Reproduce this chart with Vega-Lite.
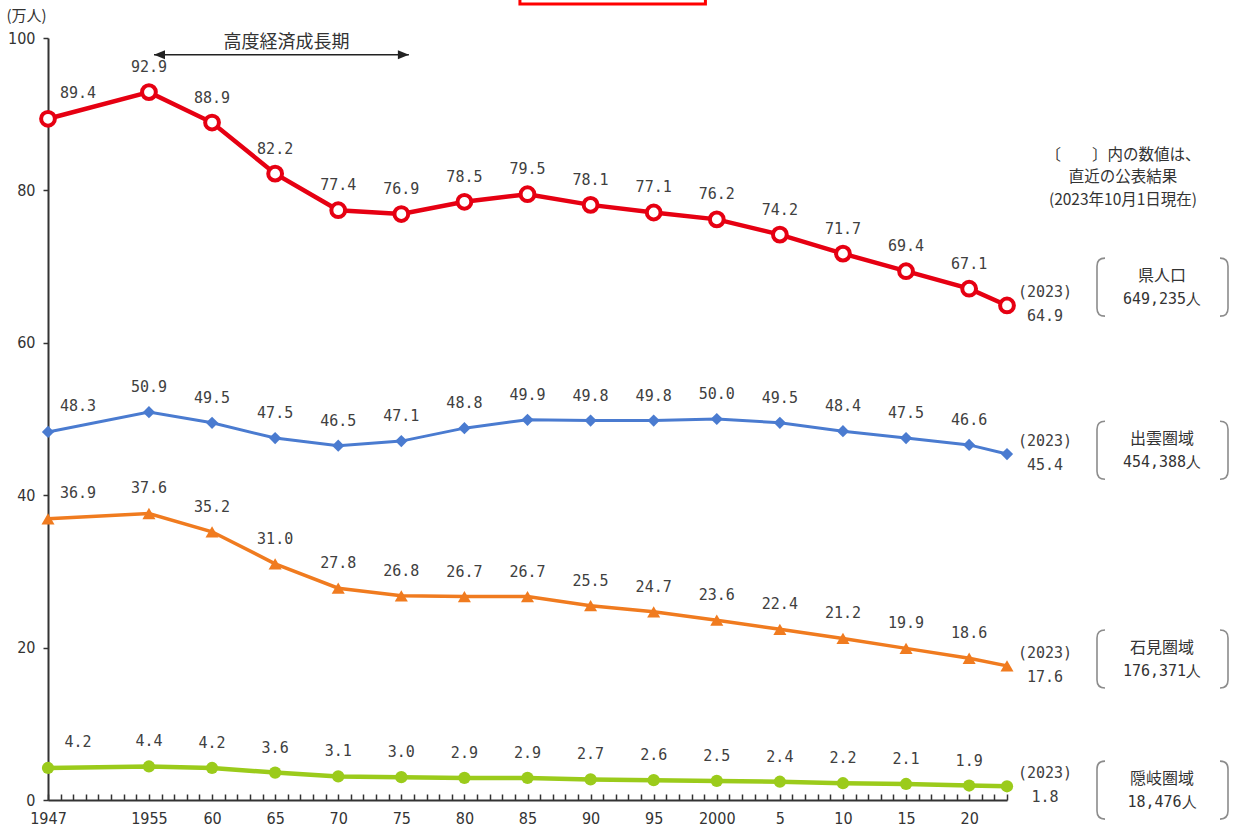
{
  "$schema": "https://vega.github.io/schema/vega-lite/v6.json",
  "width": 959,
  "height": 762,
  "autosize": {"type": "none"},
  "padding": {"left": 48, "top": 38, "right": 230, "bottom": 29},
  "background": "white",
  "config": {"view": {"stroke": null}, "font": "Noto Sans CJK JP"},
  "resolve": {"axis": {"x": "independent", "y": "independent"}},
  "datasets": {
    "pop": [
      {"year": 1947, "series": "県人口", "value": 89.4},
      {"year": 1955, "series": "県人口", "value": 92.9},
      {"year": 1960, "series": "県人口", "value": 88.9},
      {"year": 1965, "series": "県人口", "value": 82.2},
      {"year": 1970, "series": "県人口", "value": 77.4},
      {"year": 1975, "series": "県人口", "value": 76.9},
      {"year": 1980, "series": "県人口", "value": 78.5},
      {"year": 1985, "series": "県人口", "value": 79.5},
      {"year": 1990, "series": "県人口", "value": 78.1},
      {"year": 1995, "series": "県人口", "value": 77.1},
      {"year": 2000, "series": "県人口", "value": 76.2},
      {"year": 2005, "series": "県人口", "value": 74.2},
      {"year": 2010, "series": "県人口", "value": 71.7},
      {"year": 2015, "series": "県人口", "value": 69.4},
      {"year": 2020, "series": "県人口", "value": 67.1},
      {"year": 2023, "series": "県人口", "value": 64.9},
      {"year": 1947, "series": "出雲圏域", "value": 48.3},
      {"year": 1955, "series": "出雲圏域", "value": 50.9},
      {"year": 1960, "series": "出雲圏域", "value": 49.5},
      {"year": 1965, "series": "出雲圏域", "value": 47.5},
      {"year": 1970, "series": "出雲圏域", "value": 46.5},
      {"year": 1975, "series": "出雲圏域", "value": 47.1},
      {"year": 1980, "series": "出雲圏域", "value": 48.8},
      {"year": 1985, "series": "出雲圏域", "value": 49.9},
      {"year": 1990, "series": "出雲圏域", "value": 49.8},
      {"year": 1995, "series": "出雲圏域", "value": 49.8},
      {"year": 2000, "series": "出雲圏域", "value": 50.0},
      {"year": 2005, "series": "出雲圏域", "value": 49.5},
      {"year": 2010, "series": "出雲圏域", "value": 48.4},
      {"year": 2015, "series": "出雲圏域", "value": 47.5},
      {"year": 2020, "series": "出雲圏域", "value": 46.6},
      {"year": 2023, "series": "出雲圏域", "value": 45.4},
      {"year": 1947, "series": "石見圏域", "value": 36.9},
      {"year": 1955, "series": "石見圏域", "value": 37.6},
      {"year": 1960, "series": "石見圏域", "value": 35.2},
      {"year": 1965, "series": "石見圏域", "value": 31.0},
      {"year": 1970, "series": "石見圏域", "value": 27.8},
      {"year": 1975, "series": "石見圏域", "value": 26.8},
      {"year": 1980, "series": "石見圏域", "value": 26.7},
      {"year": 1985, "series": "石見圏域", "value": 26.7},
      {"year": 1990, "series": "石見圏域", "value": 25.5},
      {"year": 1995, "series": "石見圏域", "value": 24.7},
      {"year": 2000, "series": "石見圏域", "value": 23.6},
      {"year": 2005, "series": "石見圏域", "value": 22.4},
      {"year": 2010, "series": "石見圏域", "value": 21.2},
      {"year": 2015, "series": "石見圏域", "value": 19.9},
      {"year": 2020, "series": "石見圏域", "value": 18.6},
      {"year": 2023, "series": "石見圏域", "value": 17.6},
      {"year": 1947, "series": "隠岐圏域", "value": 4.2},
      {"year": 1955, "series": "隠岐圏域", "value": 4.4},
      {"year": 1960, "series": "隠岐圏域", "value": 4.2},
      {"year": 1965, "series": "隠岐圏域", "value": 3.6},
      {"year": 1970, "series": "隠岐圏域", "value": 3.1},
      {"year": 1975, "series": "隠岐圏域", "value": 3.0},
      {"year": 1980, "series": "隠岐圏域", "value": 2.9},
      {"year": 1985, "series": "隠岐圏域", "value": 2.9},
      {"year": 1990, "series": "隠岐圏域", "value": 2.7},
      {"year": 1995, "series": "隠岐圏域", "value": 2.6},
      {"year": 2000, "series": "隠岐圏域", "value": 2.5},
      {"year": 2005, "series": "隠岐圏域", "value": 2.4},
      {"year": 2010, "series": "隠岐圏域", "value": 2.2},
      {"year": 2015, "series": "隠岐圏域", "value": 2.1},
      {"year": 2020, "series": "隠岐圏域", "value": 1.9},
      {"year": 2023, "series": "隠岐圏域", "value": 1.8}
    ],
    "boxes": [
      {"series": "県人口", "line1": "県人口", "line2": "649,235人", "year": 2023, "boxY": 67.3},
      {"series": "出雲圏域", "line1": "出雲圏域", "line2": "454,388人", "year": 2023, "boxY": 45.9},
      {"series": "石見圏域", "line1": "石見圏域", "line2": "176,371人", "year": 2023, "boxY": 18.5},
      {"series": "隠岐圏域", "line1": "隠岐圏域", "line2": "18,476人", "year": 2023, "boxY": 1.3}
    ],
    "note": [
      {"year": 2023, "y": 84.6, "text": "〔　　〕内の数値は、"},
      {"year": 2023, "y": 81.7, "text": "直近の公表結果"},
      {"year": 2023, "y": 78.8, "text": "(2023年10月1日現在)"}
    ],
    "arrow": [
      {"label": "高度経済成長期", "from": 1955.4, "to": 1975.6, "mid": 1965.9, "y": 97.8}
    ],
    "frame": [
      {"x0": 1984.4, "x1": 1999.1, "y0": 104.45, "y1": 112}
    ]
  },
  "layer": [
    {
      "data": {"name": "frame"},
      "mark": {"type": "rect", "fill": null, "stroke": "#ff0000", "strokeWidth": 3, "clip": false},
      "encoding": {
        "x": {"field": "x0", "type": "quantitative", "scale": {"domain": [1947, 2023], "nice": false, "zero": false}, "axis": null},
        "x2": {"field": "x1"},
        "y": {"field": "y0", "type": "quantitative", "scale": {"domain": [0, 100], "nice": false, "zero": true}, "axis": null},
        "y2": {"field": "y1"}
      }
    },
    {
      "data": {"name": "pop"},
      "transform": [{"filter": "datum.series == '県人口'"}],
      "mark": {"type": "line", "color": "#e60012", "strokeWidth": 4.5},
      "encoding": {
        "x": {
          "field": "year", "type": "quantitative",
          "axis": {
            "title": null,
            "values": [1947,1948,1949,1950,1951,1952,1953,1954,1955,1956,1957,1958,1959,1960,1961,1962,1963,1964,1965,1966,1967,1968,1969,1970,1971,1972,1973,1974,1975,1976,1977,1978,1979,1980,1981,1982,1983,1984,1985,1986,1987,1988,1989,1990,1991,1992,1993,1994,1995,1996,1997,1998,1999,2000,2001,2002,2003,2004,2005,2006,2007,2008,2009,2010,2011,2012,2013,2014,2015,2016,2017,2018,2019,2020,2021,2022,2023],
            "labelExpr": "(datum.value == 1947 || (datum.value >= 1955 && datum.value % 5 == 0 && datum.value <= 2020)) ? ((datum.value == 1947 || datum.value == 1955 || datum.value == 2000) ? '' + datum.value : '' + (datum.value % 100)) : ''",
            "labelOverlap": false,
            "labelFlush": false,
            "labelBound": false,
            "labelFont": "Liberation Sans Narrow, DejaVu Sans Condensed, Roboto",
            "labelFontSize": 16,
            "labelColor": "#333333",
            "labelPadding": 16,
            "tickSize": -6,
            "tickWidth": 1.5,
            "tickColor": "#333333",
            "domainColor": "#333333",
            "domainWidth": 2,
            "grid": false
          }
        },
        "y": {
          "field": "value", "type": "quantitative",
          "axis": {
            "title": "(万人)",
            "titleAngle": 0,
            "titleAlign": "left",
            "titleBaseline": "middle",
            "titleX": -42,
            "titleY": -23,
            "titleFont": "Noto Sans CJK JP",
            "titleFontSize": 15,
            "titleFontWeight": "normal",
            "titleColor": "#333333",
            "values": [0, 20, 40, 60, 80, 100],
            "labelFont": "Liberation Sans Narrow, DejaVu Sans Condensed, Roboto",
            "labelFontSize": 16,
            "labelColor": "#333333",
            "labelPadding": 8,
            "tickSize": 5,
            "tickWidth": 1.5,
            "tickColor": "#333333",
            "domainColor": "#333333",
            "domainWidth": 2,
            "grid": false
          }
        }
      }
    },
    {
      "data": {"name": "pop"},
      "transform": [{"filter": "datum.series == '出雲圏域'"}],
      "mark": {"type": "line", "color": "#4a7bd0", "strokeWidth": 3},
      "encoding": {
        "x": {"field": "year", "type": "quantitative", "axis": null},
        "y": {"field": "value", "type": "quantitative", "axis": null}
      }
    },
    {
      "data": {"name": "pop"},
      "transform": [{"filter": "datum.series == '石見圏域'"}],
      "mark": {"type": "line", "color": "#f07b1f", "strokeWidth": 3.5},
      "encoding": {
        "x": {"field": "year", "type": "quantitative", "axis": null},
        "y": {"field": "value", "type": "quantitative", "axis": null}
      }
    },
    {
      "data": {"name": "pop"},
      "transform": [{"filter": "datum.series == '隠岐圏域'"}],
      "mark": {"type": "line", "color": "#9bcb1b", "strokeWidth": 4.5},
      "encoding": {
        "x": {"field": "year", "type": "quantitative", "axis": null},
        "y": {"field": "value", "type": "quantitative", "axis": null}
      }
    },
    {
      "data": {"name": "pop"},
      "transform": [{"filter": "datum.series == '県人口'"}],
      "mark": {"type": "point", "shape": "circle", "filled": true, "fill": "white", "stroke": "#e60012", "strokeWidth": 4, "size": 190, "opacity": 1},
      "encoding": {
        "x": {"field": "year", "type": "quantitative", "axis": null},
        "y": {"field": "value", "type": "quantitative", "axis": null}
      }
    },
    {
      "data": {"name": "pop"},
      "transform": [{"filter": "datum.series == '出雲圏域'"}],
      "mark": {"type": "point", "shape": "diamond", "filled": true, "color": "#4a7bd0", "size": 150, "opacity": 1},
      "encoding": {
        "x": {"field": "year", "type": "quantitative", "axis": null},
        "y": {"field": "value", "type": "quantitative", "axis": null}
      }
    },
    {
      "data": {"name": "pop"},
      "transform": [{"filter": "datum.series == '石見圏域'"}],
      "mark": {"type": "point", "shape": "triangle-up", "filled": true, "color": "#f07b1f", "size": 170, "opacity": 1},
      "encoding": {
        "x": {"field": "year", "type": "quantitative", "axis": null},
        "y": {"field": "value", "type": "quantitative", "axis": null}
      }
    },
    {
      "data": {"name": "pop"},
      "transform": [{"filter": "datum.series == '隠岐圏域'"}],
      "mark": {"type": "point", "shape": "circle", "filled": true, "color": "#9bcb1b", "size": 150, "opacity": 1},
      "encoding": {
        "x": {"field": "year", "type": "quantitative", "axis": null},
        "y": {"field": "value", "type": "quantitative", "axis": null}
      }
    },
    {
      "data": {"name": "pop"},
      "transform": [{"filter": "datum.year != 2023 && datum.year != 1947"}],
      "mark": {"type": "text", "font": "DejaVu Sans Mono", "fontSize": 15, "color": "#404040", "dy": -25, "baseline": "middle", "align": "center"},
      "encoding": {
        "x": {"field": "year", "type": "quantitative", "axis": null},
        "y": {"field": "value", "type": "quantitative", "axis": null},
        "text": {"field": "value", "type": "quantitative", "format": ".1f"}
      }
    },
    {
      "data": {"name": "pop"},
      "transform": [{"filter": "datum.year == 1947"}],
      "mark": {"type": "text", "font": "DejaVu Sans Mono", "fontSize": 15, "color": "#404040", "dx": 30, "dy": -26, "baseline": "middle", "align": "center"},
      "encoding": {
        "x": {"field": "year", "type": "quantitative", "axis": null},
        "y": {"field": "value", "type": "quantitative", "axis": null},
        "text": {"field": "value", "type": "quantitative", "format": ".1f"}
      }
    },
    {
      "data": {"name": "pop"},
      "transform": [{"filter": "datum.year == 2023"}],
      "mark": {"type": "text", "font": "DejaVu Sans Mono", "fontSize": 15, "color": "#404040", "dx": 38, "dy": -13, "baseline": "middle", "align": "center"},
      "encoding": {
        "x": {"field": "year", "type": "quantitative", "axis": null},
        "y": {"field": "value", "type": "quantitative", "axis": null},
        "text": {"value": "(2023)"}
      }
    },
    {
      "data": {"name": "pop"},
      "transform": [{"filter": "datum.year == 2023"}],
      "mark": {"type": "text", "font": "DejaVu Sans Mono", "fontSize": 15, "color": "#404040", "dx": 38, "dy": 11, "baseline": "middle", "align": "center"},
      "encoding": {
        "x": {"field": "year", "type": "quantitative", "axis": null},
        "y": {"field": "value", "type": "quantitative", "axis": null},
        "text": {"field": "value", "type": "quantitative", "format": ".1f"}
      }
    },
    {
      "data": {"name": "boxes"},
      "mark": {"type": "point", "shape": "M0.98,-0.29Q0.9,-0.29 0.9,-0.21L0.9,0.21Q0.9,0.29 0.98,0.29M2.13,-0.29Q2.21,-0.29 2.21,-0.21L2.21,0.21Q2.21,0.29 2.13,0.29", "size": 40000, "filled": false, "stroke": "#8c8c8c", "strokeWidth": 1.6, "opacity": 1},
      "encoding": {
        "x": {"field": "year", "type": "quantitative", "axis": null},
        "y": {"field": "boxY", "type": "quantitative", "axis": null}
      }
    },
    {
      "data": {"name": "boxes"},
      "mark": {"type": "text", "font": "Noto Sans CJK JP", "fontSize": 16, "color": "#333333", "dx": 155, "dy": -11, "baseline": "middle", "align": "center"},
      "encoding": {
        "x": {"field": "year", "type": "quantitative", "axis": null},
        "y": {"field": "boxY", "type": "quantitative", "axis": null},
        "text": {"field": "line1"}
      }
    },
    {
      "data": {"name": "boxes"},
      "mark": {"type": "text", "font": "DejaVu Sans Mono", "fontSize": 15, "color": "#333333", "dx": 155, "dy": 12, "baseline": "middle", "align": "center"},
      "encoding": {
        "x": {"field": "year", "type": "quantitative", "axis": null},
        "y": {"field": "boxY", "type": "quantitative", "axis": null},
        "text": {"field": "line2"}
      }
    },
    {
      "data": {"name": "note"},
      "mark": {"type": "text", "font": "Noto Sans CJK JP", "fontSize": 15.5, "color": "#333333", "dx": 116, "baseline": "middle", "align": "center"},
      "encoding": {
        "x": {"field": "year", "type": "quantitative", "axis": null},
        "y": {"field": "y", "type": "quantitative", "axis": null},
        "text": {"field": "text"}
      }
    },
    {
      "data": {"name": "arrow"},
      "mark": {"type": "rule", "color": "#222222", "strokeWidth": 1.5},
      "encoding": {
        "x": {"field": "from", "type": "quantitative", "axis": null},
        "x2": {"field": "to"},
        "y": {"field": "y", "type": "quantitative", "axis": null}
      }
    },
    {
      "data": {"name": "arrow"},
      "mark": {"type": "point", "shape": "M0,0L1,-0.4L1,0.4Z", "size": 484, "filled": true, "color": "#222222", "opacity": 1},
      "encoding": {
        "x": {"field": "from", "type": "quantitative", "axis": null},
        "y": {"field": "y", "type": "quantitative", "axis": null}
      }
    },
    {
      "data": {"name": "arrow"},
      "mark": {"type": "point", "shape": "M0,0L-1,-0.4L-1,0.4Z", "size": 484, "filled": true, "color": "#222222", "opacity": 1},
      "encoding": {
        "x": {"field": "to", "type": "quantitative", "axis": null},
        "y": {"field": "y", "type": "quantitative", "axis": null}
      }
    },
    {
      "data": {"name": "arrow"},
      "mark": {"type": "text", "font": "Noto Sans CJK JP", "fontSize": 18, "color": "#333333", "dy": -12, "baseline": "middle", "align": "center"},
      "encoding": {
        "x": {"field": "mid", "type": "quantitative", "axis": null},
        "y": {"field": "y", "type": "quantitative", "axis": null},
        "text": {"field": "label"}
      }
    }
  ]
}
